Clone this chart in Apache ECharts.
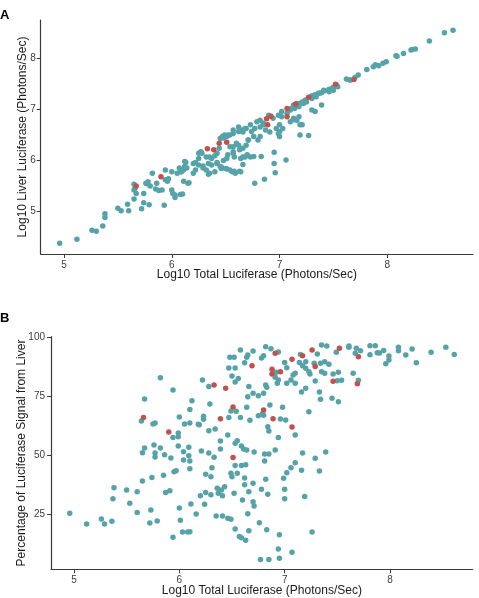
<!DOCTYPE html>
<html>
<head>
<meta charset="utf-8">
<script src="https://cdn.jsdelivr.net/npm/echarts@6/dist/echarts.min.js"></script>
<style>
  html, body { margin: 0; padding: 0; background: #fff; }
  #chart { width: 479px; height: 598px; }
</style>
</head>
<body>
<div id="chart"></div>
<script>
// tick labels
const totalTicks = [5, 6, 7, 8];
const liverTicks = [5, 6, 7, 8];
const pctTicks = [25, 50, 75, 100];

// panel A: log10 total vs log10 liver
const liverTeal = [
  [4.96,4.37],[5.12,4.45],[5.26,4.63],[5.30,4.61],[5.36,4.71],[5.38,4.88],[5.38,4.95],[5.50,5.06],[5.53,5.01],[5.60,5.01],
  [5.59,5.14],[5.65,5.24],[5.65,5.42],[5.66,5.46],[5.65,5.53],[5.72,5.05],[5.74,5.17],[5.79,5.13],[5.74,5.35],[5.76,5.55],
  [5.78,5.58],[5.80,5.50],[5.82,5.75],[5.86,5.55],[5.85,5.44],[5.91,5.42],[5.94,5.81],[5.94,5.62],[5.93,5.12],[5.96,5.59],
  [6.00,5.78],[6.00,5.42],[6.01,5.35],[6.03,5.27],[6.05,5.75],[6.07,5.85],[6.08,5.33],[6.10,5.34],[6.09,5.78],[6.12,5.88],
  [6.11,5.59],[6.16,5.56],[6.20,5.75],[6.20,5.94],[6.25,6.14],[6.25,6.04],[6.27,6.17],[6.29,5.89],[6.34,5.94],[6.35,6.07],
  [6.42,5.94],[6.40,5.78],[6.34,5.73],[6.45,6.43],[6.47,6.47],[6.49,6.50],[6.51,6.47],[6.54,6.50],[6.46,5.84],[6.50,5.84],
  [6.56,5.78],[6.59,5.75],[6.64,5.78],[6.54,6.27],[6.57,6.17],[6.60,6.34],[6.63,6.21],[6.58,6.07],[6.66,6.07],[6.66,5.92],
  [6.70,6.11],[6.76,6.08],[6.83,6.08],[6.77,5.55],[6.86,5.63],[6.95,6.16],[6.95,5.94],[6.96,5.76],[7.06,6.01],[6.57,6.60],
  [6.62,6.66],[6.66,6.56],[6.69,6.63],[6.73,6.70],[6.71,6.40],[6.76,6.47],[6.79,6.76],[6.82,6.79],[6.85,6.73],[6.90,6.89],
  [6.87,6.60],[6.91,6.56],[6.97,6.63],[6.99,6.53],[7.00,6.47],[7.02,6.96],[7.11,7.02],[7.13,6.83],[7.16,6.79],[7.10,6.76],
  [7.21,6.70],[7.19,6.50],[7.18,7.12],[7.21,7.15],[7.30,7.22],[7.31,7.25],[7.30,6.99],[7.33,6.96],[7.27,6.49],[7.39,7.09],
  [7.34,7.25],[7.37,7.32],[7.42,7.37],[7.46,7.40],[7.50,7.44],[7.53,7.48],[7.62,7.60],[7.66,7.58],[7.70,7.63],[7.73,7.68],
  [7.81,7.79],[7.87,7.84],[7.92,7.86],[7.96,7.91],[7.99,7.94],[8.09,8.05],[8.15,8.10],[8.23,8.18],[8.26,8.19],[8.39,8.35],
  [8.53,8.51],[8.61,8.56],[5.67,5.35],[5.77,5.54],[5.88,5.41],[6.03,5.32],[6.15,5.55],[6.08,5.78],[6.11,5.81],[6.13,5.96],
  [5.97,5.64],[6.14,5.85],[6.12,5.98],[6.22,5.81],[6.25,5.91],[6.22,5.96],[6.28,6.14],[6.32,6.07],[6.37,6.04],[6.40,6.09],
  [6.42,6.14],[6.44,6.24],[6.29,5.85],[6.32,5.81],[6.37,5.91],[6.42,5.96],[6.45,5.88],[6.35,5.75],[6.46,5.87],[6.51,5.83],
  [6.54,5.81],[6.58,5.79],[6.63,5.79],[6.48,6.00],[6.51,6.04],[6.52,6.11],[6.57,6.14],[6.48,6.44],[6.52,6.50],[6.57,6.53],
  [6.62,6.57],[6.65,6.60],[6.68,6.63],[6.57,6.27],[6.62,6.30],[6.66,6.24],[6.69,6.30],[6.71,6.40],[6.64,6.04],[6.68,6.07],
  [6.73,6.07],[6.80,6.40],[6.82,6.47],[6.74,6.57],[6.77,6.63],[6.82,6.66],[6.85,6.70],[6.94,6.83],[6.99,6.89],[7.02,6.86],
  [7.07,6.93],[7.10,6.99],[7.14,7.02],[7.18,7.06],[7.22,7.12],[7.25,7.15],[7.00,6.70],[7.03,6.63],[7.00,6.57],[7.13,6.80],
  [7.18,6.86],[8.08,8.06],[8.22,8.17],[7.89,7.88],[7.65,7.58],[7.54,7.45],[7.49,7.42],[7.46,7.35],[7.50,7.38],[7.41,7.38],
  [7.39,7.33],[7.36,7.32],[7.33,7.29],[7.30,7.27],[7.24,7.19],[7.16,7.12],[7.13,7.09],[7.19,6.70]
];
const liverRed = [
  [5.67,5.50],[5.90,5.68],[6.33,6.23],[6.39,6.21],[6.44,6.34],[6.51,6.36],[6.88,6.82],[6.92,6.87],
  [6.89,6.70],[7.07,6.86],[7.07,7.02],[7.15,7.11],[7.27,7.24],[7.52,7.50],[7.69,7.59]
];

// panel B: log10 total vs % of signal from liver
const pctTeal = [
  [5.82,83.0],[5.94,77.8],[5.67,73.9],[5.64,64.6],[5.75,63.3],[5.77,63.7],[5.94,57.5],[5.99,59.5],[5.99,57.9],[6.12,73.2],
  [6.10,69.5],[6.00,66.3],[6.05,63.3],[6.10,63.7],[6.18,63.2],[5.67,53.1],[5.65,51.1],[5.76,54.4],[5.77,51.0],[5.77,49.3],
  [5.82,53.1],[5.86,50.2],[5.92,48.8],[5.99,53.9],[6.04,51.5],[6.09,53.4],[6.04,48.0],[6.09,49.8],[6.10,47.6],[6.10,44.3],
  [5.95,43.0],[5.97,43.4],[5.85,41.5],[5.74,40.5],[5.65,39.0],[5.38,36.2],[5.50,35.2],[5.60,34.5],[5.37,31.5],[5.53,29.6],
  [5.87,34.1],[5.91,34.9],[6.00,27.6],[6.11,29.3],[6.16,25.0],[4.96,25.3],[5.12,20.8],[5.26,22.9],[5.29,20.8],[5.36,21.9],
  [5.60,25.6],[5.73,26.7],[5.72,21.2],[5.79,22.0],[6.01,22.3],[5.94,15.1],[6.03,17.4],[6.08,17.4],[6.10,17.5],
  [6.58,94.8],[6.65,92.6],[6.64,91.7],[6.70,94.3],[6.82,96.2],[6.87,95.3],[6.94,93.9],[6.80,92.3],[6.78,91.4],[6.48,91.7],
  [6.52,91.7],[6.47,87.1],[6.53,87.1],[6.62,89.4],[6.50,83.7],[6.56,82.6],[6.53,81.2],[6.22,82.0],[6.28,79.2],[6.66,79.2],
  [6.70,76.4],[6.65,74.9],[6.75,75.3],[6.80,76.4],[6.82,79.9],[6.83,78.9],[6.92,85.3],[7.00,89.5],[7.02,87.2],[7.08,84.1],
  [7.10,84.9],[7.06,82.0],[7.10,80.6],[6.91,83.2],[6.94,82.0],[6.93,80.6],[7.02,80.6],[7.15,92.9],[7.14,89.5],[7.17,88.1],
  [7.20,89.8],[7.20,87.0],[7.23,85.5],[7.31,93.1],[7.28,89.1],[7.24,84.6],[7.29,81.6],[7.35,96.9],[7.40,96.5],[7.34,89.1],
  [7.38,89.8],[7.42,88.7],[7.35,85.5],[7.38,84.9],[7.45,74.2],[7.34,73.8],[7.23,68.5],[7.33,76.9],[7.16,76.9],[7.20,78.5],
  [7.10,58.6],[6.79,67.7],[6.80,67.0],[6.75,66.8],[6.86,71.4],[6.98,70.4],[6.96,65.4],[7.01,65.0],[6.84,62.1],[6.85,60.3],
  [6.94,57.5],[6.91,52.2],[6.47,66.1],[6.58,66.1],[6.54,68.7],[6.49,68.8],[6.64,70.4],[6.67,64.9],[6.29,71.8],[6.23,66.6],
  [6.23,65.3],[6.19,63.0],[6.28,60.4],[6.34,61.2],[6.46,58.6],[6.39,56.1],[6.39,52.7],[6.21,51.8],[6.28,51.0],[6.33,49.1],
  [6.53,55.1],[6.55,56.2],[6.59,53.9],[6.64,52.2],[6.61,52.7],[6.71,51.4],[6.81,50.5],[6.85,50.5],[6.81,47.6],[6.31,44.7],
  [6.53,45.6],[6.59,45.6],[6.63,46.0],[6.49,42.3],[6.50,40.9],[6.55,42.3],[6.25,41.9],[6.30,40.9],[6.62,40.3],[6.70,38.1],
  [6.82,39.8],[6.99,40.2],[7.02,42.6],[7.06,44.7],[7.10,46.8],[7.17,51.0],[7.16,43.6],[7.29,48.7],[7.33,43.3],[7.39,51.4],
  [6.36,36.0],[6.40,35.2],[6.43,36.6],[6.41,32.8],[6.37,33.8],[6.20,32.8],[6.25,34.1],[6.30,33.2],[6.52,33.8],[6.62,37.4],
  [6.66,34.5],[6.78,35.5],[6.84,33.4],[6.70,30.2],[6.71,28.4],[6.60,31.0],[7.00,35.5],[7.00,31.5],[7.19,32.4],[6.24,29.1],
  [6.35,24.2],[6.41,24.2],[6.46,23.2],[6.49,22.8],[6.65,25.1],[6.53,18.6],[6.66,17.9],[6.76,21.3],[6.83,18.3],[6.57,15.4],
  [6.59,14.9],[6.63,13.8],[6.95,16.2],[7.26,17.4],[6.94,10.1],[7.07,8.7],[6.77,5.7],[6.85,5.7],[6.95,6.2],
  [7.49,93.8],[7.61,96.5],[7.61,95.9],[7.68,95.5],[7.72,94.5],[7.67,93.4],[7.81,96.6],[7.86,96.6],[7.81,92.8],[7.88,93.6],
  [7.90,93.5],[7.94,94.6],[7.99,92.2],[7.99,90.5],[7.96,88.9],[8.08,95.9],[8.08,94.5],[8.15,92.6],[8.21,95.2],[8.25,89.4],
  [8.39,93.8],[8.53,95.9],[8.61,92.9],[7.46,84.6],[7.51,85.3],[7.50,81.7],[7.54,81.9],[7.65,84.9],[7.70,81.9],[7.51,72.8]
];
const pctRed = [
  [5.66,66.1],[5.90,59.9],[6.33,79.9],[6.44,78.5],[6.69,88.1],[6.88,86.6],[6.88,84.6],[6.96,85.5],[6.91,93.4],[7.07,90.8],
  [7.17,92.3],[7.26,94.8],[7.29,87.7],[7.46,81.5],[7.52,95.5],[7.70,91.9],[7.69,80.4],[7.07,62.0],[6.89,65.5],[6.80,69.2],
  [6.51,70.5],[6.39,65.5],[6.51,49.0]
];

const teal = '#55a3a8';
const red = '#c2514e';
const axisColor = '#3a3a3a';
const font = 'Liberation Sans, Arial, sans-serif';

function xAx(gridIndex, min, max) {
  return {
    type: 'value', gridIndex: gridIndex, min: min, max: max,
    name: 'Log10 Total Luciferase (Photons/Sec)',
    nameLocation: 'middle', nameGap: 15, nameMoveOverlap: false,
    nameTextStyle: { fontSize: 12, color: '#1a1a1a', fontFamily: font },
    splitLine: { show: false },
    axisLine: { onZero: false, lineStyle: { color: axisColor, width: 1.2 } },
    axisTick: { length: 4, lineStyle: { color: axisColor }, customValues: totalTicks },
    axisLabel: { fontSize: 10, color: '#3d3d3d', margin: 6, fontFamily: font, customValues: totalTicks }
  };
}
function yAx(gridIndex, min, max, name, ticks, gap, labelGap) {
  return {
    type: 'value', gridIndex: gridIndex, min: min, max: max,
    name: name, nameLocation: 'middle', nameGap: gap, nameMoveOverlap: false,
    nameTextStyle: { fontSize: 12, color: '#1a1a1a', fontFamily: font },
    splitLine: { show: false },
    axisLine: { show: true, onZero: false, lineStyle: { color: axisColor, width: 1.2 } },
    axisTick: { show: true, length: 4, lineStyle: { color: axisColor }, customValues: ticks },
    axisLabel: { fontSize: 10, color: '#3d3d3d', margin: labelGap, fontFamily: font, customValues: ticks }
  };
}
function dots(xi, yi, data, color) {
  return {
    type: 'scatter', xAxisIndex: xi, yAxisIndex: yi, data: data,
    symbolSize: 5.5, itemStyle: { color: color, opacity: 1 }, silent: true
  };
}

const chart = echarts.init(document.getElementById('chart'));
chart.setOption({
  animation: false,
  backgroundColor: '#fff',
  grid: [
    { left: 40.7, top: 20, width: 432.3, height: 234 },
    { left: 51, top: 336.7, width: 421.7, height: 232.6 }
  ],
  xAxis: [xAx(0, 4.784, 8.795), xAx(1, 4.782, 8.785)],
  yAxis: [
    yAx(0, 4.161, 8.761, 'Log10 Liver Luciferase (Photons/Sec)', liverTicks, 12.5, 5),
    yAx(1, 1.48, 100.43, 'Percentage of Luciferase Signal from Liver', pctTicks, 23, 6)
  ],
  series: [
    dots(0, 0, liverTeal, teal),
    dots(0, 0, liverRed, red),
    dots(1, 1, pctTeal, teal),
    dots(1, 1, pctRed, red)
  ],
  graphic: [
    { type: 'text', left: 0, top: 9, style: { text: 'A', font: 'bold 13px ' + font, fill: '#000' } },
    { type: 'text', left: 0, top: 312, style: { text: 'B', font: 'bold 13px ' + font, fill: '#000' } }
  ]
});
</script>
</body>
</html>
